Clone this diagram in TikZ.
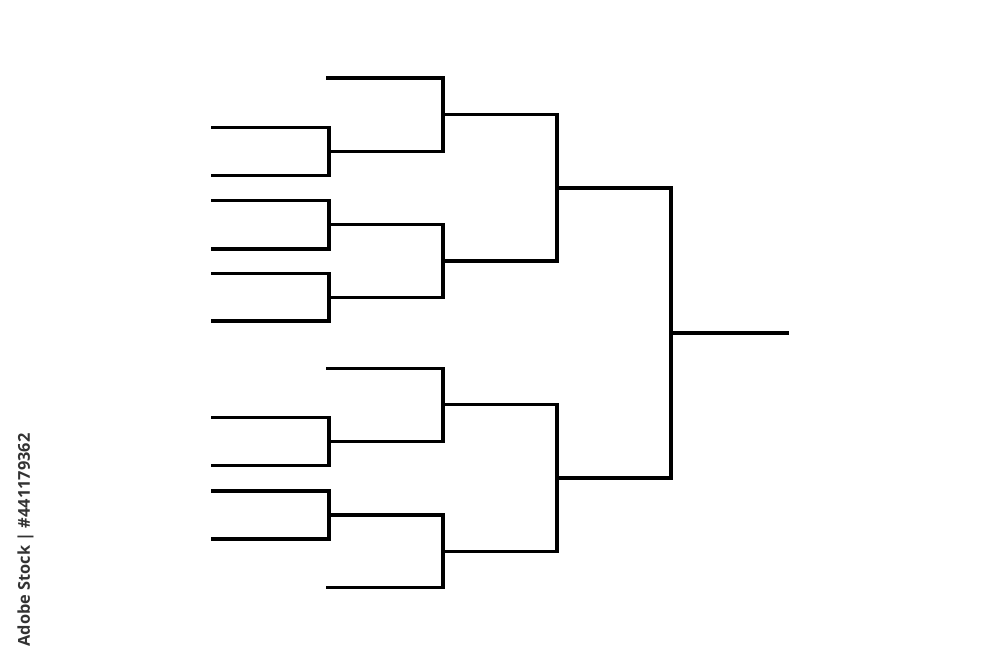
\documentclass[tikz,border=0pt]{standalone}
\usepackage{fontspec}
\newfontfamily\wmfont{Open Sans}
\begin{document}
\begin{tikzpicture}[x=0.02cm,y=-0.02cm,
  bracket/.style={line width=1.75pt,line join=miter,line cap=rect,black},
  wm/.style={font=\wmfont\fontsize{9.3}{11}\selectfont\bfseries,text=black!80,rotate=90,inner sep=0pt}]
\useasboundingbox (0,0) rectangle (1000,667);
% entry start points (left ends)
\coordinate (t1) at (328,78);
\coordinate (a1) at (213,127.7);
\coordinate (a2) at (213,175.7);
\coordinate (b1) at (213,200.7);
\coordinate (b2) at (213,249);
\coordinate (c1) at (213,273.3);
\coordinate (c2) at (213,321);
\coordinate (t2) at (328,368.3);
\coordinate (d1) at (213,417.3);
\coordinate (d2) at (213,465.3);
\coordinate (e1) at (213,491);
\coordinate (e2) at (213,539);
\coordinate (t3) at (328,587.7);
% round 1 junctions
\coordinate (ra) at (329,151.7);
\coordinate (rb) at (329,224.8);
\coordinate (rc) at (329,297.2);
\coordinate (rd) at (329,441.3);
\coordinate (re) at (329,515);
% quarter finals
\coordinate (q1) at (443,114.9);
\coordinate (q2) at (443,261);
\coordinate (q3) at (443,404.8);
\coordinate (q4) at (443,551.3);
% semi finals
\coordinate (s1) at (557,188);
\coordinate (s2) at (557,478);
% final
\coordinate (f) at (671,333);
\coordinate (w) at (787,333);
% round 1
\draw[bracket] (a1) -| (ra) |- (a2);
\draw[bracket] (b1) -| (rb) |- (b2);
\draw[bracket] (c1) -| (rc) |- (c2);
\draw[bracket] (d1) -| (rd) |- (d2);
\draw[bracket] (e1) -| (re) |- (e2);
% round 2
\draw[bracket] (t1) -| (q1) |- (ra);
\draw[bracket] (rb) -| (q2) |- (rc);
\draw[bracket] (t2) -| (q3) |- (rd);
\draw[bracket] (re) -| (q4) |- (t3);
\draw[bracket] (q1) -- (q1 -| s1);
\draw[bracket] (q2) -- (q2 -| s1);
\draw[bracket] (q3) -- (q3 -| s2);
\draw[bracket] (q4) -- (q4 -| s2);
% semi finals
\draw[bracket] (q1 -| s1) -- (q2 -| s1);
\draw[bracket] (q3 -| s2) -- (q4 -| s2);
\draw[bracket] (s1) -- (s1 -| f);
\draw[bracket] (s2) -- (s2 -| f);
% final
\draw[bracket] (s1 -| f) -- (s2 -| f);
\draw[bracket] (f) -- (w);
% stock label
\node[wm] (stock) at (25.5,540) {Adobe Stock | \#441179362};
\end{tikzpicture}
\end{document}
